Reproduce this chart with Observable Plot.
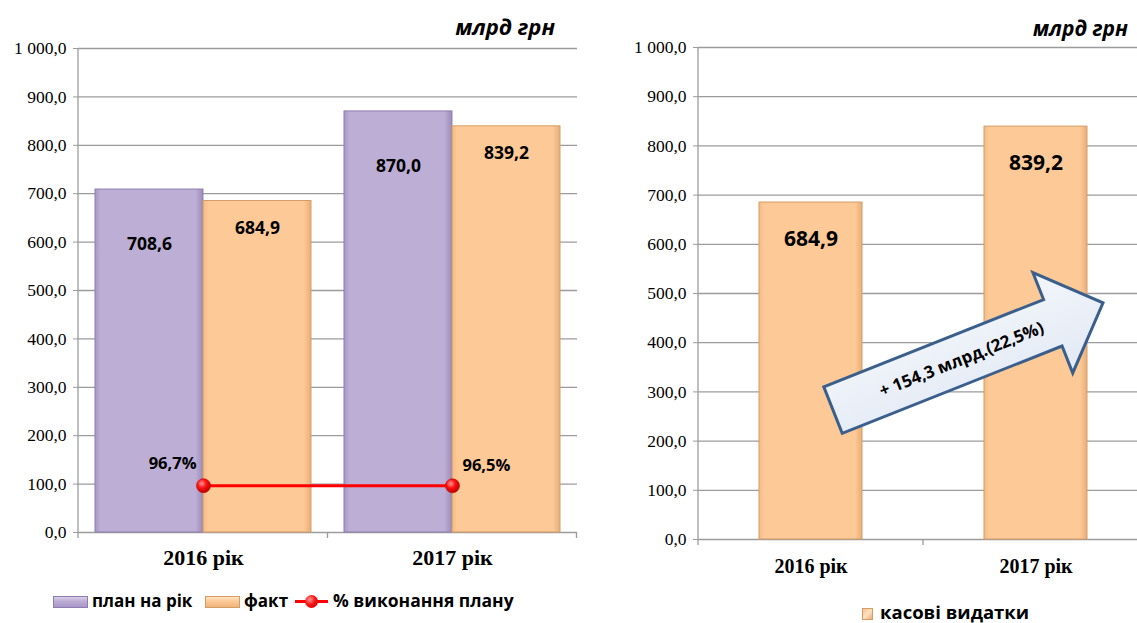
<!DOCTYPE html>
<html><head><meta charset="utf-8">
<script src="https://cdn.jsdelivr.net/npm/d3@7"></script>
<script src="https://cdn.jsdelivr.net/npm/@observablehq/plot@0.6"></script>
<style>
html,body{margin:0;padding:0;background:#fff;width:1137px;height:623px;overflow:hidden;position:relative}
#left{position:absolute;left:0;top:0;width:600px}
#right{position:absolute;left:600px;top:0;width:560px}
#left svg,#right svg{max-width:none !important}
g[aria-label="y-axis tick label"], g[aria-label="y-axis tick label"] text,
g[aria-label="x-axis tick label"], g[aria-label="x-axis tick label"] text{font-family:"Liberation Serif",serif !important}
.unit{position:absolute;font-family:"Open Sans",sans-serif;font-weight:bold;font-style:italic;white-space:nowrap;line-height:1}
.lg{position:absolute;font-family:"Open Sans",sans-serif;font-weight:bold;white-space:nowrap;line-height:1;color:#000}
.sw{position:absolute;box-sizing:border-box}
</style></head><body>
<svg width="0" height="0" style="position:absolute">
<defs>
<linearGradient id="gPurple" x1="0" x2="1" y1="0" y2="0">
<stop offset="0" stop-color="#a897c8"/><stop offset="0.05" stop-color="#bcaed4"/><stop offset="0.93" stop-color="#bcaed4"/><stop offset="1" stop-color="#9c8bba"/>
</linearGradient>
<linearGradient id="gOrange" x1="0" x2="1" y1="0" y2="0">
<stop offset="0" stop-color="#f3bb85"/><stop offset="0.05" stop-color="#fdca97"/><stop offset="0.93" stop-color="#fdca97"/><stop offset="1" stop-color="#e9ae78"/>
</linearGradient>
<radialGradient id="gRed" cx="0.38" cy="0.35" r="0.7">
<stop offset="0" stop-color="#ff9a9a"/><stop offset="0.45" stop-color="#ff1010"/><stop offset="1" stop-color="#b00000"/>
</radialGradient>
<linearGradient id="gArrow" x1="0" x2="0" y1="0" y2="1">
<stop offset="0" stop-color="#f3f6fb"/><stop offset="1" stop-color="#e2e9f4"/>
</linearGradient>
</defs>
</svg>
<div id="left"></div>
<div id="right"></div>
<div class="unit" style="right:582px;top:15px;font-size:22px">млрд грн</div>
<div class="unit" style="right:9px;top:18px;font-size:21px">млрд грн</div>

<div class="sw" style="left:53px;top:596px;width:35px;height:12px;background:linear-gradient(#d9d0ea,#bcaed4 40%,#a897c8);border:1px solid #8e7cb0"></div>
<div class="lg" style="left:92px;top:592px;font-size:17px">план на рік</div>
<div class="sw" style="left:205px;top:596px;width:35px;height:12px;background:linear-gradient(#ffe3c6,#fdca97 40%,#efb47e);border:1px solid #d59c66"></div>
<div class="lg" style="left:244px;top:592px;font-size:17px">факт</div>
<div class="sw" style="left:295px;top:600px;width:33px;height:3px;background:#ff0000"></div>
<div class="sw" style="left:305px;top:595px;width:13px;height:13px;border-radius:50%;background:radial-gradient(circle at 38% 35%,#ff9a9a,#ff1010 45%,#b00000)"></div>
<div class="lg" style="left:333px;top:592px;font-size:17.5px">% виконання плану</div>

<div class="sw" style="left:862px;top:608px;width:11px;height:12px;background:linear-gradient(135deg,#f5c38f,#fde1c2 50%,#e9ae78);border:1px solid #d59c66"></div>
<div class="lg" style="left:880px;top:603px;font-size:18.5px">касові видатки</div>

<script>
// ---- data ----
const years = ["2016 рік", "2017 рік"];
const planValues = [708.6, 870.0];
const factValues = [684.9, 839.2];
const pctValues = [96.7, 96.5];
const pctLabels = ["96,7%", "96,5%"];
const cashValues = [684.9, 839.2];
const yTicks = [0, 100, 200, 300, 400, 500, 600, 700, 800, 900, 1000];
const growthLabel = "+ 154,3 млрд.(22,5%)";
// arrow annotation anchored in data space: [year, value, fraction of band step offset]
const arrowFrom = ["2016 рік", 262, 0.1];
const arrowTo = ["2017 рік", 480, 0.3];

const loc = d3.formatLocale({decimal: ",", thousands: " ", grouping: [3]});
const fmtTick = loc.format(",.1f");
const fmtVal = loc.format(".1f");

const leftData = years.map((year, i) => ({year, plan: planValues[i], fact: factValues[i], pct: pctValues[i], pctLabel: pctLabels[i]}));
const rightData = years.map((year, i) => ({year, value: cashValues[i]}));

const GRID = "#9c9c9c";
const SERIF = "Liberation Serif";
const SANS = "Open Sans";

function frameMark(color) {
  return (index, scales, values, dims) => {
    const x = scales.x;
    const bw = x.bandwidth ? x.bandwidth() : 0;
    const dom = x.domain();
    const step = x(dom[1]) - x(dom[0]);
    const g = d3.create("svg:g").attr("stroke", color).attr("stroke-width", 1.3);
    const left = dims.marginLeft, bottom = dims.height - dims.marginBottom;
    g.append("line").attr("x1", left).attr("x2", left).attr("y1", dims.marginTop).attr("y2", bottom + 6);
    dom.forEach(d => {
      const b = x(d) + bw / 2 + step / 2;
      g.append("line").attr("x1", b).attr("x2", b).attr("y1", bottom).attr("y2", bottom + 6);
    });
    return g.node();
  };
}

function arrowMark(from, to, label) {
  return (index, scales) => {
    const x = scales.x, y = scales.y;
    const bw = x.bandwidth ? x.bandwidth() : 0;
    const dom = x.domain();
    const step = x(dom[1]) - x(dom[0]);
    const x0 = x(from[0]) + bw / 2 + from[2] * step, y0 = y(from[1]);
    const x1 = x(to[0]) + bw / 2 + to[2] * step, y1 = y(to[1]);
    const L = Math.hypot(x1 - x0, y1 - y0);
    const ang = Math.atan2(y1 - y0, x1 - x0) * 180 / Math.PI;
    const w = 25, hw = 54, hl = 54;
    const pts = [[0, -w], [L - hl, -w], [L - hl, -hw], [L, 0], [L - hl, hw], [L - hl, w], [0, w]];
    const g = d3.create("svg:g").attr("transform", `translate(${x0},${y0}) rotate(${ang})`);
    g.append("polygon").attr("points", pts.map(p => p.join(",")).join(" "))
      .attr("fill", "url(#gArrow)").attr("stroke", "#3b5f8c").attr("stroke-width", 3).attr("stroke-linejoin", "miter");
    g.append("text").attr("x", L * 0.476).attr("y", 0).attr("dy", "0.35em")
      .attr("text-anchor", "middle").attr("font-family", SANS)
      .attr("font-weight", "bold").attr("font-size", 17).attr("fill", "#000").text(label);
    return g.node();
  };
}

const baseStyle = {fontFamily: SERIF, background: "transparent", overflow: "visible", color: "#000", maxWidth: "none"};

// ---- left chart ----
const W1 = 600, H1 = 580, mL1 = 78, mR1 = 23, mT1 = 48, mB1 = 48;
const pIn1 = 0.134;
const bw1 = ((W1 - mL1 - mR1) / 2) * (1 - pIn1);
const left = Plot.plot({
  width: W1, height: H1,
  marginLeft: mL1, marginRight: mR1, marginTop: mT1, marginBottom: mB1,
  style: baseStyle,
  x: {type: "band", domain: years, paddingInner: pIn1, paddingOuter: pIn1 / 2, axis: null, label: null},
  y: {domain: [0, 1000], axis: null, label: null},
  marks: [
    Plot.gridY(yTicks, {stroke: GRID, strokeOpacity: 1, strokeWidth: 1.3}),
    Plot.axisY(yTicks, {label: null, tickFormat: fmtTick, tickSize: 5, tickPadding: 7, fontSize: 17.5, fontFamily: SERIF, stroke: GRID, fill: "#000"}),
    Plot.axisX({label: null, tickSize: 0, tickPadding: 17, fontSize: 22, fontWeight: "bold", fontFamily: SERIF, fill: "#000"}),
    frameMark(GRID),
    Plot.barY(leftData, {x: "year", y: "plan", fill: "url(#gPurple)", stroke: "#8e7cb0", strokeWidth: 1, insetRight: bw1 / 2}),
    Plot.barY(leftData, {x: "year", y: "fact", fill: "url(#gOrange)", stroke: "#d59c66", strokeWidth: 1, insetLeft: bw1 / 2}),
    Plot.text(leftData, {x: "year", y: "plan", text: d => fmtVal(d.plan), dx: -bw1 / 4, dy: 55, fontSize: 17.5, fontWeight: "bold", fontFamily: SANS, fill: "#000"}),
    Plot.text(leftData, {x: "year", y: "fact", text: d => fmtVal(d.fact), dx: bw1 / 4, dy: 27, fontSize: 17.5, fontWeight: "bold", fontFamily: SANS, fill: "#000"}),
    Plot.line(leftData, {x: "year", y: "pct", stroke: "#ff0000", strokeWidth: 3}),
    Plot.dot(leftData, {x: "year", y: "pct", r: 7, fill: "url(#gRed)", stroke: "#c00000", strokeWidth: 0.6}),
    Plot.text(leftData.slice(0, 1), {x: "year", y: "pct", text: "pctLabel", textAnchor: "end", dx: -7, dy: -22, fontSize: 16.5, fontWeight: "bold", fontFamily: SANS, fill: "#000"}),
    Plot.text(leftData.slice(1), {x: "year", y: "pct", text: "pctLabel", textAnchor: "start", dx: 10, dy: -20, fontSize: 16.5, fontWeight: "bold", fontFamily: SANS, fill: "#000"})
  ]
});
document.getElementById("left").append(left);

// ---- right chart ----
const W2 = 560, H2 = 590, mL2 = 98, mR2 = 12, mT2 = 47, mB2 = 51;
const pIn2 = 0.542;
const right = Plot.plot({
  width: W2, height: H2,
  marginLeft: mL2, marginRight: mR2, marginTop: mT2, marginBottom: mB2,
  style: baseStyle,
  x: {type: "band", domain: years, paddingInner: pIn2, paddingOuter: pIn2 / 2, axis: null, label: null},
  y: {domain: [0, 1000], axis: null, label: null},
  marks: [
    Plot.gridY(yTicks, {stroke: GRID, strokeOpacity: 1, strokeWidth: 1.3}),
    Plot.axisY(yTicks, {label: null, tickFormat: fmtTick, tickSize: 5, tickPadding: 7, fontSize: 17.5, fontFamily: SERIF, stroke: GRID, fill: "#000"}),
    Plot.axisX({label: null, tickSize: 0, tickPadding: 19, fontSize: 20, fontWeight: "bold", fontFamily: SERIF, fill: "#000"}),
    frameMark(GRID),
    Plot.barY(rightData, {x: "year", y: "value", fill: "url(#gOrange)", stroke: "#d59c66", strokeWidth: 1}),
    Plot.text(rightData, {x: "year", y: "value", text: d => fmtVal(d.value), dy: 37, fontSize: 21, fontWeight: "bold", fontFamily: SANS, fill: "#000"}),
    arrowMark(arrowFrom, arrowTo, growthLabel)
  ]
});
document.getElementById("right").append(right);
d3.selectAll('g[aria-label="y-axis tick label"], g[aria-label="x-axis tick label"]').attr("font-family", SERIF).style("font-family", SERIF);
</script>
</body></html>
